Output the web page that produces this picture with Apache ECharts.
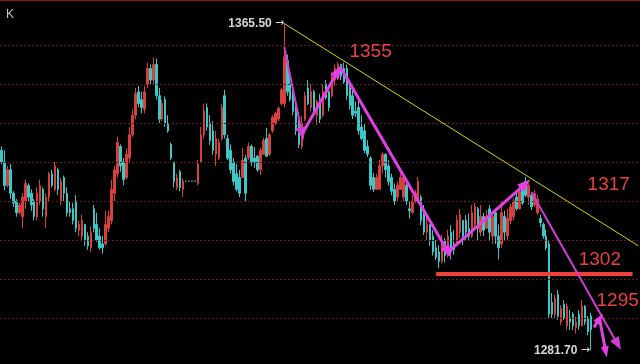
<!DOCTYPE html>
<html><head><meta charset="utf-8">
<script src="https://cdn.jsdelivr.net/npm/echarts@6/dist/echarts.min.js"></script>
<style>html,body{margin:0;padding:0;background:#000;}#c{width:640px;height:364px;}</style>
</head><body><div id="c"></div>
<script>
// ---- data ----
const open  = [1333,1330,1324,1328,1322,1320,1317,1316,1320,1324,1322,1320,1316,1320,1323,1316,1321,1327,1323,1328,1320,1326,1322,1318,1318,1320,1312.5,1311,1314,1311,1308,1318,1314,1311,1309,1309,1313,1315,1322,1327,
1334,1330,1326,1331,1337,1342,1348,1346,1343.5,1350,1354,1351,1355,1347,1341,1346,1340,1334.5,1330,1323.5,1327.5,1323,1325.1,1325.1,1325.1,1325.1,1324.5,1330,1337,1344,
1340,1338,1332,1331,1336,1347,1336,1333,1330,1327,1326,1326,1331,1331,1334,1331,1331.5,1328,1332,1336,1332,1338,1340,1341,1345,1345,1356,1350,1348,1345,
1340,1334,1341,1349,1344,1348,1342,1346,1342,1350,1348,1347,1351,1353,1355,1354,1354,1349,1347,1343,1344,1339,1338,1334,1331,1326,1323,1323,1329,1332,
1329,1326,1323,1321,1323,1321,1324,1318,1317,1320,1320.5,1321,1317,1312,1314,1311,1308,1307,1304.5,1310,1306,1312,1309,1309,1312,1315,1315,1313,1311,1314,
1318,1312,1316,1313,1318,1311,1317,1311,1309,1316,1311,1315,1316,1321,1318,1323,1325,1321,1321.5,1319,1317,1315.5,1314,1311,1309,1294,1291,1296,1289,1293.5,
1288,1290,1291,1287.5,1291,1288,1293,1290,1290.5];
const close = [1330,1324,1328,1322,1319.5,1317,1319,1321,1324.5,1321,1319,1316,1322,1324,1318,1321,1327,1324,1329,1323,1325,1322,1317,1317,1315,1313,1314,1315,1310,1308.5,1312,1313,1310,1308,1308,1314,1316,1323,1328,1335,
1329,1325.5,1332,1337,1342,1347.5,1345,1344,1348,1354,1351,1355,1347,1341,1345,1340,1338,1331,1325,1326,1323.5,1325,1325.1,1325.1,1325.1,1325.1,1329.5,1337,1343,1339,
1335.5,1333,1336,1335,1344,1337,1331,1328,1325,1323,1322,1330.5,1322,1334,1330,1330,1328,1333,1335.5,1331.5,1337,1341.5,1342.5,1343.8,1348.5,1357,1348,1346,1343,1338,
1334.5,1340,1347,1345,1348,1343,1345.5,1341,1348,1346.5,1344,1352,1354,1355,1352,1350.5,1347,1344.5,1342,1342.5,1338,1336,1333,1332,1324,1323,1326,1329,1332,1328,
1325,1322.5,1320,1324,1326,1326,1320,1317.5,1320,1322,1325,1315,1312,1314,1310,1307,1305.5,1304.5,1309,1306,1311,1307,1307.5,1315,1316.5,1311,1312,1311,1317,1318.5,
1313,1316,1312.5,1316,1312,1316,1311,1308,1317,1312,1315.5,1318.5,1320,1318,1322.5,1319.5,1321.5,1324,1318.5,1322,1320.5,1314.5,1311,1308,1291,1291,1295,1290.5,1292.5,1290,
1293,1289,1288,1289,1288,1293,1289,1286.5,1287];
const low   = [1329.5,1322.8,1323.5,1320.5,1318.5,1316,1316.5,1313,1318,1320,1317.5,1315,1315,1319,1316,1313,1320,1323.5,1322.5,1321.5,1319,1320,1316,1316,1314,1312,1311,1310,1308.5,1307.5,1307,1312,1309.5,1307.5,1306.5,1308.5,1312,1314,1320,1326,
1327.5,1324,1325.5,1330,1336.5,1341,1344,1342.5,1342.5,1349,1350,1350,1346,1340,1340.5,1339,1337.5,1330.5,1323.5,1322.8,1322.5,1321,1325.1,1325.1,1325.1,1325.1,1324,1330,1336,1338,
1334.4,1331.8,1329,1330.5,1335.5,1336,1330.5,1327,1324,1322.5,1321,1326,1319.8,1330.5,1329,1328.5,1327.5,1326.7,1331.8,1331.3,1331.5,1337.5,1339.5,1340.5,1344.5,1344,1347,1345.5,1342,1336.9,
1333.6,1333.3,1340.5,1344.5,1343,1342,1339.5,1340,1341.5,1346,1343,1346.5,1349.5,1351,1351,1350,1346,1343.5,1341,1341.5,1337,1335.6,1332.3,1331.3,1322.8,1322.3,1322.8,1322.8,1327,1326,
1324,1321.5,1319,1320,1322.8,1320,1319,1315.5,1316.8,1319.5,1320,1313.8,1311.3,1310,1308.5,1306,1304.9,1302.8,1304,1304.2,1305.5,1305,1306.2,1308.5,1310.5,1308.7,1310,1310,1310.5,1312.6,
1310,1311,1311,1313,1310,1309,1309,1305,1308,1310,1310,1314,1315,1317.5,1317.8,1319,1321,1319,1317.7,1318.5,1316.4,1313.3,1310.3,1307.4,1289.9,1290,1290,1289.5,1288.2,1289.5,
1286.9,1287,1286.9,1286,1287,1288,1288.2,1285.6,1281.7];
const high  = [1334,1333,1329,1329.5,1322.5,1320.5,1319.5,1322,1325.5,1324.5,1323,1320.5,1323.5,1325.5,1323.5,1322,1327.5,1328,1330,1328.5,1326,1326.5,1323.5,1320,1319.5,1321.5,1315,1316.5,1314,1312,1313.5,1319,1317,1313,1311,1317.5,1317.5,1325.5,1329,1336.5,
1334.5,1331,1333.5,1339,1343.5,1349,1349.5,1348,1349.5,1355.5,1355,1356.8,1356.5,1349,1346,1346.8,1342,1335,1330,1327,1328,1325.8,1325.1,1325.1,1325.1,1325.1,1330.5,1339,1345,1345,
1342,1340.5,1338,1336,1345,1348.5,1337,1334.5,1331,1329.5,1328,1333.6,1331.8,1335,1334.5,1333.8,1331.8,1333.6,1336.2,1338.7,1337.4,1342,1342.8,1344.2,1349,1365.5,1357.5,1352,1349.5,1346,
1342.8,1341.8,1348,1351,1350,1348.5,1346,1347.5,1350,1351,1349.5,1353,1355,1355.6,1355.2,1355.5,1355,1351,1348.5,1345.5,1346,1342,1340,1335.6,1331.5,1327.2,1327,1330.5,1332.5,1332.2,
1330.5,1327,1324.5,1325,1327,1326.7,1324.5,1320,1321.5,1322.8,1326.2,1321.5,1319,1316,1314,1312.6,1310,1308.7,1311.3,1310.5,1312.6,1313.8,1312.6,1316.4,1318,1315.2,1316.4,1316.8,1319,1319.5,
1318.5,1319,1317,1317.7,1319,1317.5,1318,1314,1320,1317.5,1318,1319.3,1320.7,1322.5,1324,1324,1326.2,1324.5,1321.8,1322.8,1321.5,1316.5,1314.5,1312.6,1310,1296.4,1296,1297.2,1293.3,1294.6,
1293.8,1292.1,1291.5,1290.3,1292,1294.6,1293.3,1290.5,1291.3];
const slotCount = 215;                       // candle slots incl. empty space on the right
const gridLevels = [1290,1300,1310,1320,1330,1340,1350,1360];
const highMark = [95, 1365.5];
const lowMark = [198, 1281.7];
const trendLine = [[95, 1365.5], [214, 1308.5]];
const arrows = [
  [[95, 1359.5], [101, 1337.2]],
  [[101, 1337.2], [113, 1353.3]],
  [[114, 1354.1], [150, 1306.9]],
  [[150, 1306.9], [176, 1324.4]],
  [[178, 1322.3], [207, 1283.3]],
  [[201, 1289.5], [203, 1281.3]],
  [[199, 1287.6], [201, 1289.9]]
];
const supportLine = [[146, 1301.3], [212, 1301.3]];
const levelLabels = [
  {text: '1355', at: [124, 1358.2]},
  {text: '1317', at: [204, 1324.1]},
  {text: '1302', at: [201.4, 1304.9]},
  {text: '1295', at: [206.8, 1294.4]}
];

// ---- chart ----
const categories = Array.from({length: slotCount}, (_, i) => String(i));
const candleData = open.map((o, i) => {
  const item = {value: [o, close[i], low[i], high[i]]};
  if (o === close[i] && low[i] === high[i]) {
    item.itemStyle = {color: '#bbbbbb', color0: '#bbbbbb', borderColor: '#bbbbbb', borderColor0: '#bbbbbb'};
  }
  return item;
});

const chart = echarts.init(document.getElementById('c'), null, {renderer: 'canvas'});
const RED = '#d9403b', CYAN = '#3cc8c8', MAG = '#e63ee6';
const extremeRich = {
  n: {color: '#d8d8d8', fontSize: 12, fontWeight: 'bold', fontFamily: 'Liberation Sans'},
  a: {color: '#d8d8d8', fontSize: 11, fontFamily: 'DejaVu Sans'}
};
chart.setOption({
  animation: false,
  backgroundColor: '#000000',
  title: {text: 'K', left: 1, top: 4, textStyle: {color: '#c8c8c8', fontSize: 12, fontWeight: 'normal', fontFamily: 'Liberation Sans'}},
  grid: {left: 0, right: 0, top: 0, bottom: 0},
  xAxis: [
    {type: 'category', data: categories, boundaryGap: true,
     axisLine: {show: true, lineStyle: {color: '#8a1a1a', width: 1}}, axisTick: {show: false}, axisLabel: {show: false}, splitLine: {show: false}},
    {type: 'category', data: categories, boundaryGap: true, position: 'top',
     axisLine: {show: true, lineStyle: {color: '#8a1a1a', width: 1}}, axisTick: {show: false}, axisLabel: {show: false}, splitLine: {show: false}}
  ],
  yAxis: {type: 'value', min: 1278.21, max: 1371.54, show: false, splitLine: {show: false}},
  series: [
    {type: 'line', data: [], z: 1, silent: true,
     markLine: {silent: true, symbol: 'none', label: {show: false},
       lineStyle: {color: '#761515', type: [2, 2], width: 1},
       data: gridLevels.map(v => ({yAxis: v}))}},
    {type: 'candlestick', data: candleData, barWidth: 2, z: 2,
     itemStyle: {color: RED, color0: CYAN, borderColor: RED, borderColor0: CYAN, borderWidth: 1}},
    {type: 'line', data: [], z: 3, silent: true,
     markLine: {silent: true, symbol: 'none', label: {show: false},
       lineStyle: {color: '#d6d600', width: 1, type: 'solid'},
       data: [[{coord: trendLine[0]}, {coord: trendLine[1]}]]}},
    {type: 'line', data: [], z: 4, silent: true,
     markLine: {silent: true, symbol: 'none', label: {show: false},
       lineStyle: {color: '#f0403c', width: 4, type: 'solid'},
       data: [[{coord: supportLine[0]}, {coord: supportLine[1]}]]}},
    {type: 'line', data: [], z: 5, silent: true,
     markLine: {silent: true, symbol: ['none', 'triangle'], symbolSize: [10, 13], label: {show: false},
       lineStyle: {color: MAG, width: 2.5, type: 'solid'},
       data: arrows.map((a, k) => [
         {coord: a[0]},
         {coord: a[1], symbolSize: k >= 5 ? [8, 11] : [10, 13],
          lineStyle: {width: (k === 0 || k === 4) ? 2 : 3, color: (k === 0 || k === 4) ? '#d23cd2' : MAG}}
       ])}},
    {type: 'line', data: [], z: 6, silent: true,
     markPoint: {silent: true, symbol: 'circle', symbolSize: 0,
       data: [
         ...levelLabels.map(l => ({coord: l.at, value: l.text,
           label: {show: true, position: 'inside', formatter: l.text, color: '#e8423c', fontSize: 19, fontFamily: 'Liberation Sans'}})),
         {coord: highMark, value: 0, label: {show: true, position: 'left', distance: 0, formatter: '{n|1365.50} {a|\u2192}', rich: extremeRich}},
         {coord: lowMark, value: 0, label: {show: true, position: 'left', distance: 1, formatter: '{n|1281.70} {a|\u2192}', rich: extremeRich}}
       ]}}
  ]
});
</script>
</body></html>
